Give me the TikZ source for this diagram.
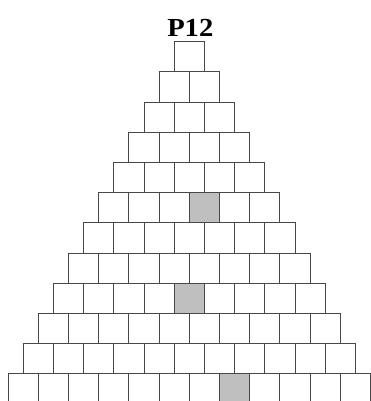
\documentclass[tikz,border=0pt]{standalone}
\usepackage{fontspec}
\setmainfont{Liberation Serif}
\begin{document}
\begin{tikzpicture}[x=1pt,y=-1pt,
  cell/.style={draw=black!72,line width=1pt,fill=white,minimum size=30.2pt,inner sep=0pt,outer sep=0pt,anchor=north west},
  shaded/.style={fill=black!25},
  ttl/.style={font=\bfseries\fontsize{26}{26}\selectfont,inner sep=0pt}]
\useasboundingbox (0,0) rectangle (371,401);
\clip (0,0) rectangle (371,401);
\node[ttl,anchor=base] (title) at (190.3,36.7) {\scalebox{1.1}[1]{P12}};
\foreach \r in {1,...,12}{
  \pgfmathtruncatemacro{\last}{\r-1}
  \foreach \i in {0,...,\last}{
    \node[cell] (c-\r-\i) at ({189.35-\r*15.1+\i*30.2},{41.7+(\r-1)*30.2}) {};
  }
}
\node[cell,shaded] (g1) at ({189.35-6*15.1+3*30.2},{41.7+5*30.2}) {};
\node[cell,shaded] (g2) at ({189.35-9*15.1+4*30.2},{41.7+8*30.2}) {};
\node[cell,shaded] (g3) at ({189.35-12*15.1+7*30.2},{41.7+11*30.2}) {};
\end{tikzpicture}
\end{document}
